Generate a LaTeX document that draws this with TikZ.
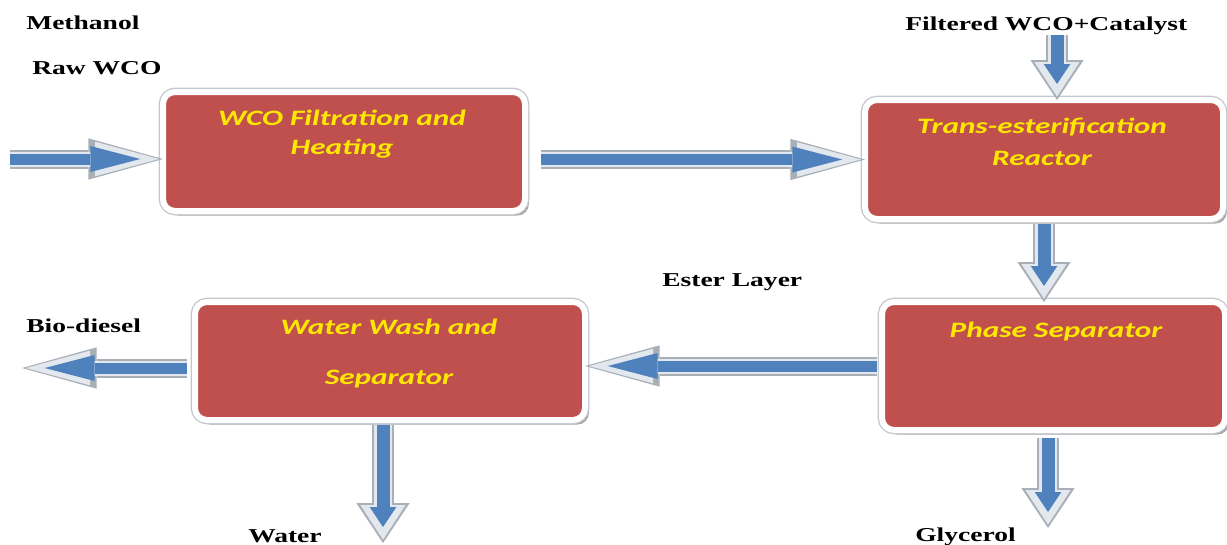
\documentclass[tikz,border=0pt]{standalone}
\usepackage{fontspec}
\setmainfont{Liberation Serif}
\newfontfamily\lblfont{Liberation Serif}[FakeStretch=1.40]
\newfontfamily\boxfont{Carlito}[FakeStretch=1.42]
\usetikzlibrary{arrows.meta,shadows}
\definecolor{boxred}{HTML}{C0504D}
\definecolor{boxyellow}{RGB}{255,232,0}
\definecolor{flowblue}{HTML}{4F81BD}
\definecolor{flowedge}{HTML}{A9AFB7}
\definecolor{flowpale}{HTML}{E3E8EE}
\definecolor{frameedge}{HTML}{C4C8CE}
\begin{document}
\begin{tikzpicture}[x=0.75pt,y=-0.75pt,
  procbox/.style={rectangle, rounded corners=9pt, fill=boxred, draw=white,
    line width=4.5pt, inner sep=0pt, outer sep=0pt,
    drop shadow={shadow xshift=3pt,shadow yshift=-3.5pt,fill=black,opacity=0.35},
    preaction={draw=frameedge, line width=6.5pt}},
  lbl/.style={font=\lblfont\bfseries\fontsize{14.75pt}{17pt}\selectfont, inner sep=0pt, anchor=base west},
  boxtxt/.style={font=\boxfont\bfseries\itshape\fontsize{16.5pt}{19pt}\selectfont, text=boxyellow, inner sep=0pt, anchor=base},
  hflow/.style={
    preaction={draw=flowedge, line width=14.25pt, shorten >=0pt, -{Triangle[width=31pt,length=56pt,line width=0pt]}},
    preaction={draw=flowpale, line width=11.25pt, shorten >=3pt, -{Triangle[width=26pt,length=48pt,line width=0pt]}},
    draw=flowblue, line width=8.25pt, shorten >=17pt, -{Triangle[width=19.5pt,length=37.5pt,line width=0pt]}},
  vflow/.style={
    preaction={draw=flowedge, line width=16.5pt, shorten >=0pt, -{Triangle[width=40pt,length=30pt,line width=0pt]}},
    preaction={draw=flowpale, line width=13.5pt, shorten >=2.5pt, -{Triangle[width=34pt,length=26pt,line width=0pt]}},
    draw=flowblue, line width=9.75pt, shorten >=12pt, -{Triangle[width=20pt,length=15pt,line width=0pt]}}
]
\useasboundingbox (0,0) rectangle (1227,544);

% process boxes
\node[procbox, minimum width=271.5pt, minimum height=89.25pt] (b1) at (344,151.5) {};
\node[procbox, minimum width=268.5pt, minimum height=89.25pt] (b2) at (1044,159.5) {};
\node[procbox, minimum width=257.25pt, minimum height=96pt] (b3) at (1053.5,366) {};
\node[procbox, minimum width=292.5pt, minimum height=88.5pt] (b4) at (390,361) {};

% box texts
\node[boxtxt] (t1a) at (342,125) {WCO Filtration and};
\node[boxtxt] (t1b) at (342,154) {Heating};
\node[boxtxt] (t2a) at (1042,133) {Trans-esterification};
\node[boxtxt] (t2b) at (1042,165) {Reactor};
\node[boxtxt] (t3) at (1056,337) {Phase Separator};
\node[boxtxt] (t4a) at (389,334) {Water Wash and};
\node[boxtxt] (t4b) at (389,384) {Separator};

% labels
\node[lbl] (lMeth) at (26,29) {Methanol};
\node[lbl] (lRaw) at (32,74) {Raw WCO};
\node[lbl] (lFilt) at (905,30) {Filtered WCO+Catalyst};
\node[lbl] (lEster) at (662,286) {Ester Layer};
\node[lbl] (lBio) at (26,332) {Bio-diesel};
\node[lbl] (lWater) at (248,542) {Water};
\node[lbl] (lGly) at (915,541) {Glycerol};

% free ends
\coordinate (inA) at (10,159);
\coordinate (inB) at (1057,35);
\coordinate (outG) at (1048,528);
\coordinate (outD) at (22,368);
\coordinate (outW) at (383,543);

% flows
\draw[hflow] (inA) -- (inA -| b1.west);
\draw[hflow, shorten <=12pt] (b1.east |- b2.west) -- (b2.west);
\draw[vflow] (inB) -- (inB |- b2.north);
\draw[vflow, shorten <=4pt] (b2.south) -- (b2.south |- b3.north);
\draw[vflow, shorten <=6pt] (b3.south -| outG) -- (outG);
\draw[hflow, shorten <=4pt] (b3.west) -- (b3.west -| b4.east);
\draw[hflow, shorten <=6pt] (b4.west |- outD) -- (outD);
\draw[vflow, shorten <=4pt] (b4.south -| outW) -- (outW);
\end{tikzpicture}
\end{document}
